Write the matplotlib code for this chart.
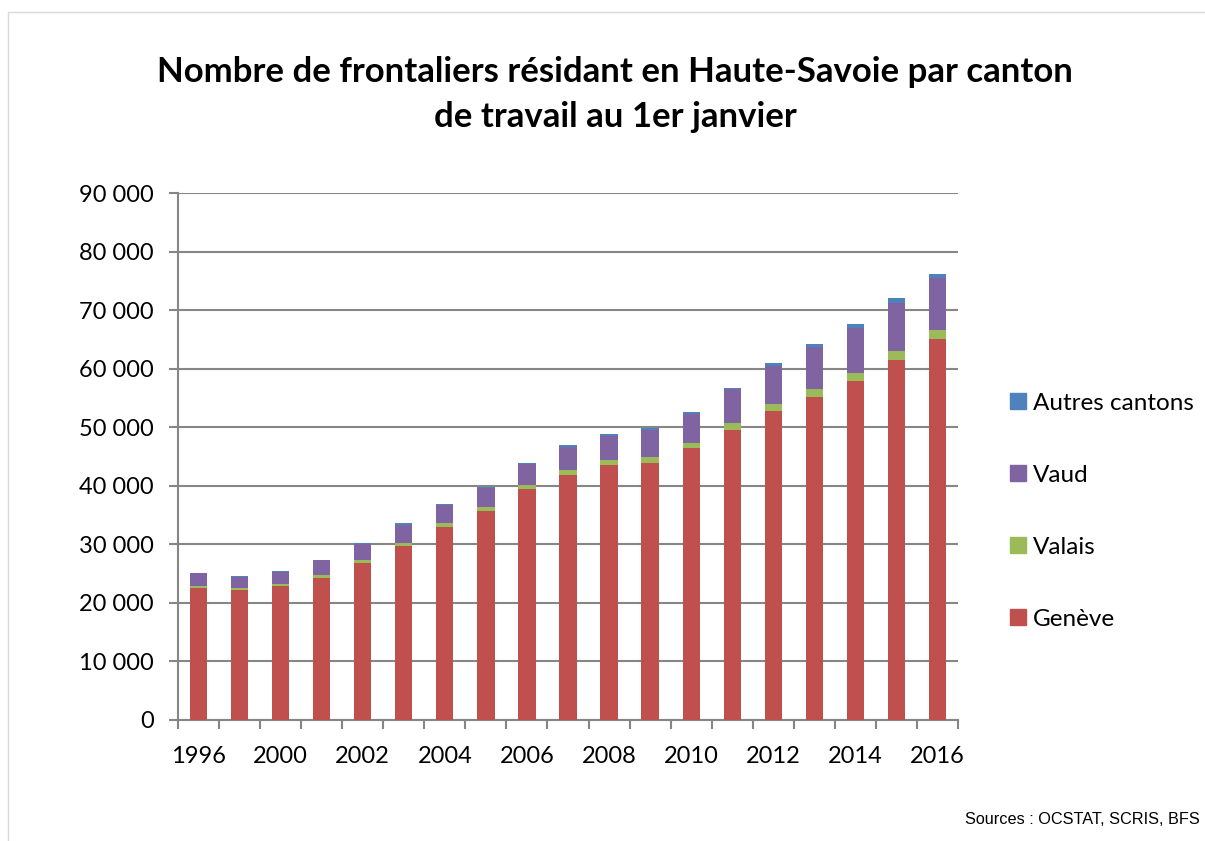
import numpy as np
import matplotlib.pyplot as plt
from matplotlib.patches import Rectangle, Patch

plt.rcParams['font.family'] = ['Lato', 'DejaVu Sans']

years = ['1996', '1999', '2000', '2001', '2002', '2003', '2004', '2005', '2006', '2007',
         '2008', '2009', '2010', '2011', '2012', '2013', '2014', '2015', '2016']
geneve = [22500, 22200, 22950, 24300, 26850, 29750, 33000, 35750, 39450, 41900,
          43550, 43950, 46500, 49600, 52750, 55200, 57950, 61550, 65100]
valais = [380, 340, 330, 400, 400, 500, 580, 570, 620, 800,
          790, 910, 850, 1080, 1200, 1310, 1360, 1460, 1500]
vaud = [2170, 1880, 1990, 2570, 2780, 3130, 3120, 3240, 3590, 3930,
        4210, 4720, 4960, 5810, 6550, 7120, 7680, 8250, 8820]
autres = [120, 110, 120, 130, 150, 180, 190, 200, 220, 250,
          340, 340, 340, 280, 400, 570, 630, 750, 800]

c_gen = '#C0504D'
c_val = '#9BBB59'
c_vau = '#8064A2'
c_aut = '#4F81BD'

fig = plt.figure(figsize=(12.05, 8.41), dpi=100)
ax = fig.add_axes([178/1205, 1 - 720/841, (958-178)/1205, (720-193)/841])

x = np.arange(len(years))
w = 0.42
b1 = np.array(geneve)
b2 = b1 + np.array(valais)
b3 = b2 + np.array(vaud)
ax.bar(x, geneve, w, color=c_gen, zorder=3)
ax.bar(x, valais, w, bottom=b1, color=c_val, zorder=3)
ax.bar(x, vaud, w, bottom=b2, color=c_vau, zorder=3)
ax.bar(x, autres, w, bottom=b3, color=c_aut, zorder=3)

ax.set_xlim(-0.5, len(years) - 0.5)
ax.set_ylim(0, 90000)
yt = np.arange(0, 90001, 10000)
ax.set_yticks(yt)
ax.set_yticklabels(['{:,}'.format(v).replace(',', ' ') for v in yt], fontsize=17)
ax.yaxis.grid(True, color='#868686', linewidth=1.5, zorder=0)

# ticks between categories, labels every other year
ax.set_xticks(np.arange(-0.5, len(years), 1))
ax.set_xticklabels([])
ax.set_xticks(x[::2], minor=True)
ax.set_xticklabels(years[::2], minor=True, fontsize=17)
ax.tick_params(axis='x', which='minor', length=0, pad=19)
ax.tick_params(axis='x', which='major', length=6.5, color='#868686', width=1.5)
ax.tick_params(axis='y', length=6.5, color='#868686', width=1.5, pad=11)

for s in ['top', 'right']:
    ax.spines[s].set_visible(False)
for s in ['left', 'bottom']:
    ax.spines[s].set_color('#868686')
    ax.spines[s].set_linewidth(1.5)

handles = [Patch(color=c_aut), Patch(color=c_vau), Patch(color=c_val), Patch(color=c_gen)]
labels = ['Autres cantons', 'Vaud', 'Valais', 'Genève']
fig.legend(handles, labels, loc='upper left', bbox_to_anchor=(1000/1205, 1 - 383/841),
           frameon=False, fontsize=17.5, handlelength=0.65, handleheight=0.65,
           handletextpad=0.3, labelspacing=2.1, borderaxespad=0)

fig.text(615/1205, 1 - 72/841, 'Nombre de frontaliers résidant en Haute-Savoie par canton',
         ha='center', va='center', fontsize=25, fontweight='bold')
fig.text(615/1205, 1 - 117/841, 'de travail au 1er janvier',
         ha='center', va='center', fontsize=25, fontweight='bold')

fig.text(1200/1205, 1 - 819/841, 'Sources : OCSTAT, SCRIS, BFS', fontsize=11.7,
         family='Liberation Sans', va='center', ha='right')

fig.patches.append(Rectangle((8/1205, -0.1), 1.2, 1 - 12/841 + 0.1, transform=fig.transFigure,
                             fill=False, edgecolor='#D9D9D9', linewidth=1))

fig.savefig('out.png', dpi=100)
